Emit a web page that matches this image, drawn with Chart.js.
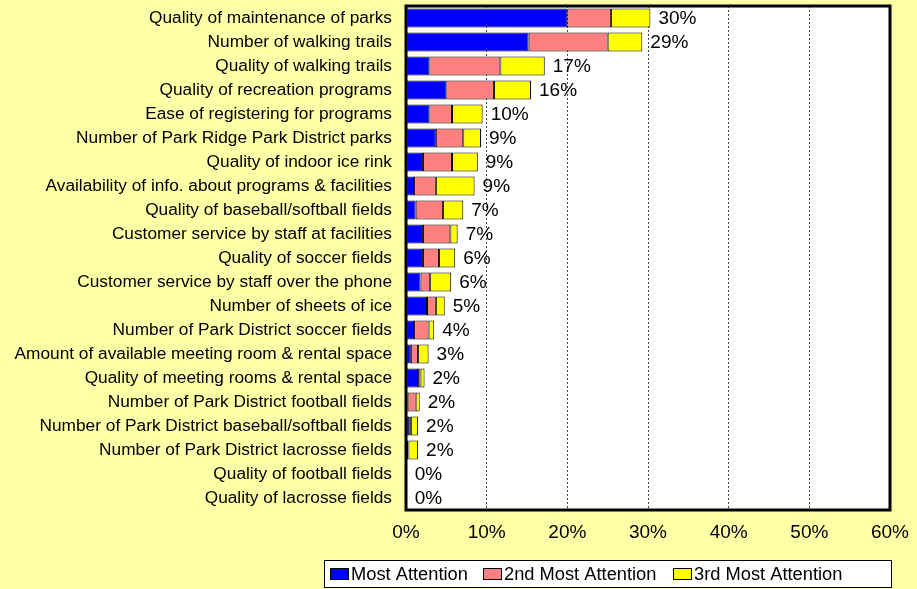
<!DOCTYPE html>
<html>
<head>
<meta charset="utf-8">
<script src="https://cdn.jsdelivr.net/npm/chart.js@4.4.0/dist/chart.umd.min.js"></script>
<style>
html, body { margin: 0; padding: 0; background: #FFFFA8; }
#grafikon { display: block; }
</style>
</head>
<body>
<canvas id="grafikon" width="917" height="589"></canvas>
<script>
var kategorije = [
    "Quality of maintenance of parks",
    "Number of walking trails",
    "Quality of walking trails",
    "Quality of recreation programs",
    "Ease of registering for programs",
    "Number of Park Ridge Park District parks",
    "Quality of indoor ice rink",
    "Availability of info. about programs & facilities",
    "Quality of baseball/softball fields",
    "Customer service by staff at facilities",
    "Quality of soccer fields",
    "Customer service by staff over the phone",
    "Number of sheets of ice",
    "Number of Park District soccer fields",
    "Amount of available meeting room & rental space",
    "Quality of meeting rooms & rental space",
    "Number of Park District football fields",
    "Number of Park District baseball/softball fields",
    "Number of Park District lacrosse fields",
    "Quality of football fields",
    "Quality of lacrosse fields"
];
var najvise  = [20.0, 15.2, 2.9, 5.0, 2.9, 3.7, 2.1, 1.0, 1.2, 2.1, 2.1, 1.8, 2.6, 1.0, 0.6, 1.5, 0.2, 0.4, 0.0, 0.1, 0.1];
var drugo    = [5.4, 9.8, 8.8, 5.9, 2.8, 3.4, 3.6, 2.7, 3.4, 3.4, 2.0, 1.2, 1.1, 1.8, 0.9, 0.3, 1.0, 0.2, 0.3, 0.0, 0.0];
var trece    = [4.9, 4.3, 5.5, 4.6, 3.8, 2.2, 3.2, 4.8, 2.5, 0.9, 2.0, 2.6, 1.1, 0.7, 1.3, 0.5, 0.5, 0.9, 1.2, 0.0, 0.0];
var ukupno   = ["30%", "29%", "17%", "16%", "10%", "9%", "9%", "9%", "7%", "7%", "6%", "6%", "5%", "4%", "3%", "2%", "2%", "2%", "2%", "0%", "0%"];
var serije   = ["Most Attention", "2nd Most Attention", "3rd Most Attention"];
var xTikovi  = [0, 10, 20, 30, 40, 50, 60];

var boje = ["#0000FF", "#FF8080", "#FFFF00"];
var font = "'Liberation Sans', Arial, sans-serif";
var legendaX = [330, 483, 673];

// bijela pozadina i okvir oko grafikona
var okvir = {
    id: "okvir",
    beforeDraw: function(chart) {
        var a = chart.chartArea, c = chart.ctx;
        c.save();
        c.fillStyle = "#FFFFFF";
        c.fillRect(a.left, a.top, a.right - a.left, a.bottom - a.top);
        c.restore();
    },
    afterDatasetsDraw: function(chart) {
        var c = chart.ctx;
        var meta = chart.getDatasetMeta(chart.data.datasets.length - 1);
        c.save();
        c.font = "19px " + font;
        c.fillStyle = "#000";
        c.textBaseline = "middle";
        c.textAlign = "left";
        for (let i = 0; i < meta.data.length; i++) {
            var el = meta.data[i];
            c.fillText(ukupno[i], el.x + 8, el.y + 1);
        }
        c.restore();
    },
    afterDraw: function(chart) {
        var a = chart.chartArea, c = chart.ctx;
        c.save();
        c.strokeStyle = "#000";
        c.lineWidth = 3;
        c.strokeRect(a.left, a.top, a.right - a.left, a.bottom - a.top);

        // legenda
        c.fillStyle = "#FFFFFF";
        c.fillRect(324, 560, 567, 27);
        c.lineWidth = 1;
        c.strokeRect(324.5, 560.5, 567, 27);
        c.font = "18.3px " + font;
        c.textBaseline = "middle";
        for (let i = 0; i < serije.length; i++) {
            var x = legendaX[i];
            c.fillStyle = boje[i];
            c.fillRect(x, 568, 18, 11);
            c.strokeStyle = "#000";
            c.strokeRect(x + 0.5, 568.5, 18, 11);
            c.fillStyle = "#000";
            c.fillText(serije[i], x + 21, 574.5);
        }
        c.restore();
    }
};

new Chart("grafikon", {
    type: "bar",
    data: {
        labels: kategorije,
        datasets: [
            { label: serije[0], data: najvise, backgroundColor: boje[0] },
            { label: serije[1], data: drugo, backgroundColor: boje[1] },
            { label: serije[2], data: trece, backgroundColor: boje[2] }
        ]
    },
    options: {
        indexAxis: "y",
        responsive: false,
        animation: false,
        layout: { padding: { top: 6, right: 27, bottom: 0, left: 0 } },
        datasets: {
            bar: {
                borderColor: "#000",
                borderWidth: 1,
                borderSkipped: false,
                barPercentage: 0.8,
                categoryPercentage: 1.0
            }
        },
        plugins: {
            legend: { display: false },
            tooltip: { enabled: false }
        },
        scales: {
            x: {
                stacked: true,
                min: 0,
                max: 60,
                afterFit: function(s) {
                    s.height = 79;
                    s.paddingLeft = 0;
                    s.paddingRight = 0;
                },
                afterBuildTicks: function(s) {
                    s.ticks = xTikovi.map(function(v) { return { value: v }; });
                },
                ticks: {
                    color: "#000",
                    padding: 11,
                    font: { family: font, size: 19 },
                    callback: function(v) { return v + "%"; }
                },
                grid: { color: "#444", drawTicks: false, lineWidth: 1 },
                border: { display: false, dash: [2, 2] }
            },
            y: {
                stacked: true,
                afterFit: function(s) {
                    s.width = 406;
                    s.paddingTop = 0;
                    s.paddingBottom = 0;
                },
                ticks: {
                    color: "#000",
                    padding: 14,
                    autoSkip: false,
                    font: { family: font, size: 17.3 }
                },
                grid: { display: false, drawTicks: false },
                border: { display: false }
            }
        }
    },
    plugins: [okvir]
});
</script>
</body>
</html>
